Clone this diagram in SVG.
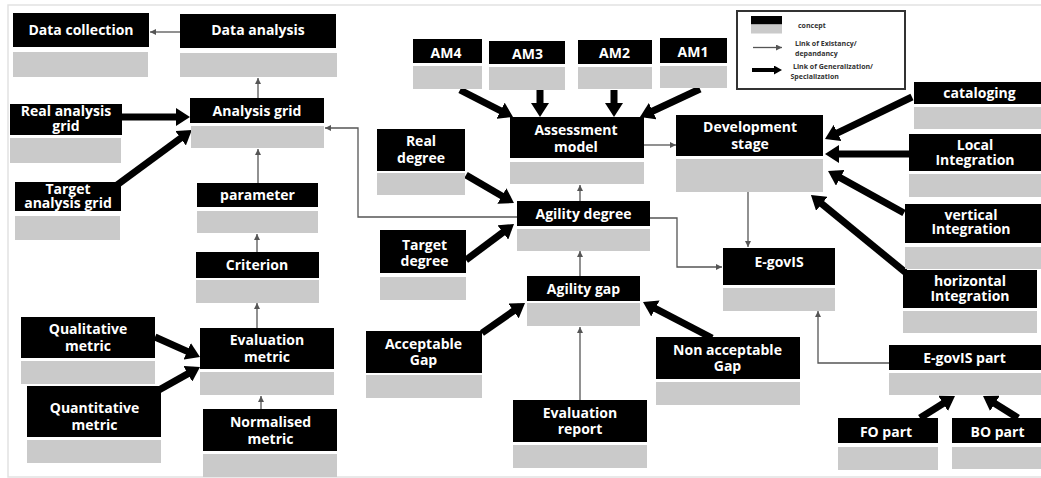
<svg xmlns="http://www.w3.org/2000/svg" width="1041" height="478" viewBox="0 0 1041 478">
<defs>
<style>
.b{fill:#000}
.g{fill:#cacaca}
.t{font-family:"Open Sans","Liberation Sans",sans-serif;font-weight:700;font-size:14px;fill:#fff;text-anchor:middle}
.lt{font-family:"Open Sans","Liberation Sans",sans-serif;font-weight:700;font-size:7px;fill:#333}
.thin{stroke:#555;stroke-width:1.3;fill:none;marker-end:url(#ah)}
.thick{stroke:#000;stroke-width:7;fill:none;marker-end:url(#AH)}
</style>
<marker id="ah" markerUnits="userSpaceOnUse" markerWidth="6" markerHeight="6" viewBox="0 0 6 6" refX="6" refY="3" orient="auto">
<path d="M0,0 L6,3 L0,6 z" fill="#555"/>
</marker>
<marker id="AH" markerUnits="userSpaceOnUse" markerWidth="14" markerHeight="18" viewBox="0 0 14 18" refX="8" refY="9" orient="auto">
<path d="M0,0 L14,9 L0,18 z" fill="#000"/>
</marker>
<marker id="AHs" markerUnits="userSpaceOnUse" markerWidth="8" markerHeight="9" viewBox="0 0 8 9" refX="4" refY="4.5" orient="auto">
<path d="M0,0 L8,4.5 L0,9 z" fill="#000"/>
</marker>
</defs>
<rect x="0" y="0" width="1041" height="478" fill="#fff"/>
<rect x="8" y="5" width="1040" height="472" fill="none" stroke="#e2e2e2" stroke-width="1.5"/>

<g id="legend">
<rect x="737" y="11" width="168" height="78" fill="#fff" stroke="#333" stroke-width="2"/>
<rect x="751" y="16" width="31" height="8.5" class="b"/>
<rect x="751" y="24.5" width="31" height="9" class="g"/>
<text x="798" y="28" class="lt">concept</text>
<line x1="753" y1="47.5" x2="782" y2="47.5" class="thin"/>
<text x="795" y="45.5" class="lt">Link of Existancy/<tspan x="795" dy="10">depandancy</tspan></text>
<line x1="752" y1="70" x2="778" y2="70" stroke="#000" stroke-width="4" marker-end="url(#AHs)"/>
<text x="793" y="68.5" class="lt">Link of Generalization/<tspan x="790.5" dy="10">Specialization</tspan></text>
</g>

<g id="connectors">
<line x1="180" y1="32" x2="150" y2="32" class="thin"/>
<line x1="258" y1="98" x2="258" y2="78" class="thin"/>
<line x1="258" y1="183" x2="258" y2="149" class="thin"/>
<line x1="257" y1="252" x2="257" y2="234" class="thin"/>
<line x1="257" y1="328" x2="257" y2="303" class="thin"/>
<line x1="261" y1="409" x2="261" y2="396" class="thin"/>
<path d="M517,217 H358 V128 H325" class="thin"/>
<line x1="644" y1="145" x2="676" y2="145" class="thin"/>
<line x1="580" y1="201" x2="580" y2="185" class="thin"/>
<line x1="580" y1="276" x2="580" y2="251" class="thin"/>
<line x1="580" y1="400" x2="580" y2="327" class="thin"/>
<path d="M650,218 H677 V267 H722" class="thin"/>
<line x1="748" y1="192" x2="748" y2="247" class="thin"/>
<path d="M889,363 H818 V311" class="thin"/>

<line x1="121" y1="117" x2="184" y2="117" class="thick"/>
<line x1="117" y1="185" x2="187" y2="133.5" class="thick"/>
<line x1="155" y1="337" x2="194.5" y2="354.6" class="thick"/>
<line x1="150" y1="395" x2="194.8" y2="369.9" class="thick"/>
<line x1="460" y1="90" x2="507.7" y2="114.3" class="thick"/>
<line x1="540" y1="90" x2="540" y2="111" class="thick"/>
<line x1="614" y1="90" x2="614" y2="111" class="thick"/>
<line x1="700" y1="89" x2="645.4" y2="114.5" class="thick"/>
<line x1="466" y1="175" x2="508.8" y2="200" class="thick"/>
<line x1="466" y1="260" x2="509.2" y2="227.6" class="thick"/>
<line x1="482" y1="333" x2="520.1" y2="306.4" class="thick"/>
<line x1="712" y1="338" x2="648.3" y2="304.8" class="thick"/>
<line x1="912" y1="97" x2="830.4" y2="136.4" class="thick"/>
<line x1="909" y1="154" x2="831" y2="154" class="thick"/>
<line x1="904" y1="213" x2="833.3" y2="173.9" class="thick"/>
<line x1="905" y1="272" x2="815.6" y2="198.8" class="thick"/>
<line x1="920" y1="418" x2="949.9" y2="399.2" class="thick"/>
<line x1="1018" y1="418" x2="988.1" y2="399.2" class="thick"/>
</g>

<g id="data-collection"><rect x="13" y="13" width="136" height="34" class="b"/><rect x="13" y="52" width="135" height="25" class="g"/><text x="81" y="34.5" class="t">Data collection</text></g>
<g id="data-analysis"><rect x="180" y="14" width="156" height="34" class="b"/><rect x="180" y="53" width="157" height="24" class="g"/><text x="258" y="35" class="t">Data analysis</text></g>
<g id="analysis-grid"><rect x="190" y="98" width="134" height="25" class="b"/><rect x="191" y="126" width="133" height="22" class="g"/><text x="257" y="115.5" class="t">Analysis grid</text></g>
<g id="real-analysis-grid"><rect x="10" y="104" width="112" height="31" class="b"/><rect x="10" y="138" width="111" height="25" class="g"/><text x="66" y="115.5" class="t">Real analysis<tspan x="66" dy="15.5">grid</tspan></text></g>
<g id="target-analysis-grid"><rect x="15" y="182" width="106" height="29" class="b"/><rect x="15" y="216" width="105" height="24" class="g"/><text x="68" y="193.5" class="t">Target<tspan x="68" dy="14">analysis grid</tspan></text></g>
<g id="parameter"><rect x="197" y="183" width="121" height="24" class="b"/><rect x="197" y="211" width="121" height="22" class="g"/><text x="257.5" y="200" class="t">parameter</text></g>
<g id="criterion"><rect x="196" y="252" width="123" height="26" class="b"/><rect x="196" y="280" width="123" height="23" class="g"/><text x="257" y="270" class="t">Criterion</text></g>
<g id="evaluation-metric"><rect x="200" y="328" width="134" height="41" class="b"/><rect x="200" y="372" width="134" height="23" class="g"/><text x="267" y="345" class="t">Evaluation<tspan x="267" dy="17">metric</tspan></text></g>
<g id="qualitative-metric"><rect x="21" y="317" width="134" height="41" class="b"/><rect x="21" y="361" width="134" height="23" class="g"/><text x="88" y="334" class="t">Qualitative<tspan x="88" dy="17">metric</tspan></text></g>
<g id="quantitative-metric"><rect x="27" y="386" width="134" height="51" class="b"/><rect x="27" y="440" width="134" height="23" class="g"/><text x="94.5" y="413" class="t">Quantitative<tspan x="94.5" dy="16.5">metric</tspan></text></g>
<g id="normalised-metric"><rect x="203" y="409" width="134" height="42" class="b"/><rect x="203" y="454" width="134" height="23" class="g"/><text x="270.5" y="427" class="t">Normalised<tspan x="270.5" dy="16.5">metric</tspan></text></g>
<g id="am4"><rect x="413" y="39" width="69" height="24" class="b"/><rect x="413" y="66" width="69" height="23" class="g"/><text x="446" y="57.5" class="t">AM4</text></g>
<g id="am3"><rect x="489" y="41" width="76" height="23" class="b"/><rect x="489" y="67" width="76" height="23" class="g"/><text x="527.5" y="58.5" class="t">AM3</text></g>
<g id="am2"><rect x="578" y="40" width="74" height="24" class="b"/><rect x="578" y="67" width="74" height="22" class="g"/><text x="614.5" y="58" class="t">AM2</text></g>
<g id="am1"><rect x="660" y="38" width="67" height="25" class="b"/><rect x="660" y="66" width="67" height="22" class="g"/><text x="693" y="56.5" class="t">AM1</text></g>
<g id="assessment-model"><rect x="510" y="117" width="134" height="41" class="b"/><rect x="510" y="162" width="134" height="22" class="g"/><text x="576" y="134.5" class="t">Assessment<tspan x="576" dy="17">model</tspan></text></g>
<g id="real-degree"><rect x="377" y="129" width="88" height="42" class="b"/><rect x="377" y="173" width="88" height="22" class="g"/><text x="421" y="146" class="t">Real<tspan x="421" dy="17">degree</tspan></text></g>
<g id="agility-degree"><rect x="517" y="201" width="133" height="25" class="b"/><rect x="517" y="229" width="133" height="22" class="g"/><text x="583.5" y="218.5" class="t">Agility degree</text></g>
<g id="target-degree"><rect x="380" y="230" width="86" height="43" class="b"/><rect x="380" y="277" width="86" height="23" class="g"/><text x="424.5" y="250" class="t">Target<tspan x="424.5" dy="16">degree</tspan></text></g>
<g id="agility-gap"><rect x="527" y="276" width="113" height="25" class="b"/><rect x="527" y="303" width="113" height="23" class="g"/><text x="583.5" y="293.5" class="t">Agility gap</text></g>
<g id="acceptable-gap"><rect x="366" y="331" width="116" height="42" class="b"/><rect x="366" y="375" width="116" height="23" class="g"/><text x="423.5" y="348.5" class="t">Acceptable<tspan x="423.5" dy="16">Gap</tspan></text></g>
<g id="evaluation-report"><rect x="513" y="400" width="134" height="42" class="b"/><rect x="513" y="445" width="134" height="23" class="g"/><text x="580" y="418" class="t">Evaluation<tspan x="580" dy="15.5">report</tspan></text></g>
<g id="non-acceptable-gap"><rect x="656" y="337" width="144" height="42" class="b"/><rect x="656" y="382" width="144" height="23" class="g"/><text x="727.5" y="355" class="t">Non acceptable<tspan x="727.5" dy="16">Gap</tspan></text></g>
<g id="development-stage"><rect x="676" y="115" width="147" height="41" class="b"/><rect x="676" y="159" width="147" height="33" class="g"/><text x="750" y="132" class="t">Development<tspan x="750" dy="16.5">stage</tspan></text></g>
<g id="e-govis"><rect x="723" y="248" width="112" height="37" class="b"/><rect x="723" y="288" width="112" height="23" class="g"/><text x="779" y="266.5" class="t">E-govIS</text></g>
<g id="cataloging"><rect x="914" y="82" width="127" height="22" class="b"/><rect x="914" y="107" width="127" height="22" class="g"/><text x="979.5" y="97.5" class="t">cataloging</text></g>
<g id="local-integration"><rect x="909" y="134" width="132" height="37" class="b"/><rect x="909" y="174" width="132" height="23" class="g"/><text x="975" y="150" class="t">Local<tspan x="975" dy="15">Integration</tspan></text></g>
<g id="vertical-integration"><rect x="905" y="204" width="136" height="39" class="b"/><rect x="905" y="247" width="136" height="22" class="g"/><text x="971" y="220" class="t">vertical<tspan x="971" dy="14">Integration</tspan></text></g>
<g id="horizontal-integration"><rect x="903" y="270" width="134" height="38" class="b"/><rect x="903" y="311" width="134" height="22" class="g"/><text x="970" y="286" class="t">horizontal<tspan x="970" dy="14.5">Integration</tspan></text></g>
<g id="e-govis-part"><rect x="889" y="345" width="152" height="25" class="b"/><rect x="889" y="373" width="152" height="22" class="g"/><text x="964.5" y="362.5" class="t">E-govIS part</text></g>
<g id="fo-part"><rect x="838" y="418" width="100" height="25" class="b"/><rect x="838" y="447" width="100" height="23" class="g"/><text x="886" y="436.5" class="t">FO part</text></g>
<g id="bo-part"><rect x="952" y="418" width="89" height="25" class="b"/><rect x="952" y="447" width="89" height="22" class="g"/><text x="997.5" y="437" class="t">BO part</text></g>
</svg>
